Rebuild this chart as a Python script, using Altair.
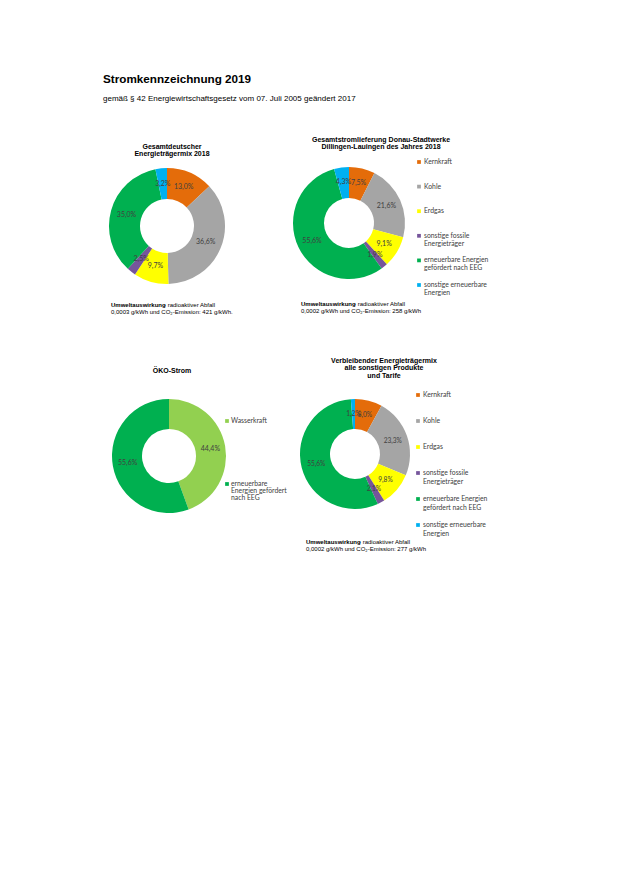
import altair as alt
import pandas as pd

# ---------------- data ----------------
categories = [
    "Kernkraft",
    "Kohle",
    "Erdgas",
    "sonstige fossile Energieträger",
    "erneuerbare Energien gefördert nach EEG",
    "sonstige erneuerbare Energien",
]
gesamt_values = [13.0, 36.6, 9.7, 2.5, 35.0, 3.2]
dsw_values = [7.5, 21.6, 9.1, 1.9, 55.6, 4.3]
rest_values = [8.0, 23.3, 9.8, 2.1, 55.6, 1.2]

oeko_categories = ["Wasserkraft", "erneuerbare Energien gefördert nach EEG"]
oeko_values = [44.4, 55.6]

legend_line1 = ["Kernkraft", "Kohle", "Erdgas", "sonstige fossile",
                "erneuerbare Energien", "sonstige erneuerbare"]
legend_line2 = ["", "", "", "Energieträger", "gefördert nach EEG", "Energien"]
oeko_legend_line1 = ["Wasserkraft", "erneuerbare"]
oeko_legend_line2 = ["", "Energien gefördert"]
oeko_legend_line3 = ["", "nach EEG"]

page_title = "Stromkennzeichnung 2019"
page_subtitle = "gemäß § 42 Energiewirtschaftsgesetz vom 07. Juli 2005 geändert 2017"
title1 = ["Gesamtdeutscher", "Energieträgermix 2018"]
title2 = ["Gesamtstromlieferung  Donau-Stadtwerke", "Dillingen-Lauingen des Jahres 2018"]
title3 = ["ÖKO-Strom"]
title4 = ["Verbleibender Energieträgermix", "alle sonstigen Produkte", "und Tarife"]
foot_bold = "Umweltauswirkung"
foot_rest = "- radioaktiver Abfall"
foot1 = "0,0003 g/kWh und CO₂-Emission:  421 g/kWh."
foot2 = "0,0002 g/kWh und CO₂-Emission:  258 g/kWh"
foot4 = "0,0002 g/kWh und CO₂-Emission:  277 g/kWh"

# ---------------- styles ----------------
color_domain = categories + ["Wasserkraft"]
color_range = ["#E46C0A", "#A5A5A5", "#FFFF00", "#76559B", "#00B050", "#00B0F0", "#92D050"]
color_scale = alt.Scale(domain=color_domain, range=color_range)
ARIAL = "Liberation Sans"
CAL = "Lato"


def txt(s, x, y, size=7, bold=False, align="left", font=ARIAL, color="#000000"):
    return alt.Chart(pd.DataFrame({"t": [s]})).mark_text(
        align=align, baseline="middle", font=font, fontSize=size,
        fontWeight="bold" if bold else "normal", color=color,
    ).encode(x=alt.value(x), y=alt.value(y), text="t:N")


def donut(cats, vals, cx, cy, r_in, r_out, r_lab, lab_size=7):
    df = pd.DataFrame({"cat": cats, "value": vals, "idx": list(range(len(cats)))})
    base = alt.Chart(df).transform_calculate(
        label="replace(format(datum.value, '.1f'), '.', ',') + '%'"
    )
    arc = base.mark_arc(innerRadius=r_in, outerRadius=r_out).encode(
        theta=alt.Theta("value:Q", stack=True),
        order=alt.Order("idx:Q"),
        color=alt.Color("cat:N", scale=color_scale, legend=None),
        x=alt.value(cx), y=alt.value(cy),
    )
    lab = base.mark_text(radius=r_lab, font=CAL, fontSize=lab_size, color="#404040").encode(
        theta=alt.Theta("value:Q", stack=True),
        order=alt.Order("idx:Q"),
        text="label:N",
        x=alt.value(cx), y=alt.value(cy),
    )
    return [arc, lab]


def legend(cats, lines, sx, tx, y0, y1, lh=8, size=6.8):
    n = len(cats)
    d = {"cat": cats, "idx": list(range(n))}
    for i, l in enumerate(lines):
        d[f"l{i}"] = l
    df = pd.DataFrame(d)
    yenc = alt.Y("idx:Q", scale=alt.Scale(domain=[0, n - 1], range=[y0, y1], zero=False, nice=False), axis=None)
    out = [alt.Chart(df).mark_square(size=14, opacity=1).encode(
        x=alt.value(sx), y=yenc,
        color=alt.Color("cat:N", scale=color_scale, legend=None),
    )]
    for i in range(len(lines)):
        out.append(alt.Chart(df).mark_text(
            align="left", baseline="middle", font=CAL, fontSize=size,
            color="#404040", dy=i * lh,
        ).encode(x=alt.value(tx), y=yenc, text=f"l{i}:N"))
    return out


layers = []
# page header
layers.append(txt(page_title, 103, 79, size=11.7, bold=True))
layers.append(txt(page_subtitle, 103, 99, size=8.0))

# chart titles
for i, s in enumerate(title1):
    layers.append(txt(s, 172, 146.5 + 7.6 * i, size=7, bold=True, align="center"))
for i, s in enumerate(title2):
    layers.append(txt(s, 381, 139.5 + 7.6 * i, size=7, bold=True, align="center"))
for i, s in enumerate(title3):
    layers.append(txt(s, 172, 371, size=7, bold=True, align="center"))
for i, s in enumerate(title4):
    layers.append(txt(s, 384, 360.5 + 7.6 * i, size=7, bold=True, align="center"))

# donuts
layers += donut(categories, gesamt_values, 167, 226, 27, 58, 42)
layers += donut(categories, dsw_values, 349, 223, 25, 56, 41)
layers += donut(oeko_categories, oeko_values, 169, 456, 27, 57, 42)
layers += donut(categories, rest_values, 355, 454, 25, 55, 40, lab_size=6.6)

# legends
layers += legend(categories, [legend_line1, legend_line2], 419, 424, 162, 285)
layers += legend(categories, [legend_line1, legend_line2], 418, 423, 395, 525, lh=8.5)
layers += legend(oeko_categories, [oeko_legend_line1, oeko_legend_line2, oeko_legend_line3],
                 227, 231, 421, 484, lh=7)

# footnotes
for (fx, fy, f2) in [(111, 305, foot1), (301, 304, foot2), (306, 542, foot4)]:
    layers.append(txt(foot_bold, fx, fy, size=6, bold=True))
    layers.append(txt(foot_rest, fx + 53, fy, size=6))
    layers.append(txt(f2, fx, fy + 7, size=6))

chart = alt.layer(*layers).resolve_scale(
    theta="independent", y="independent", x="independent"
).properties(
    width=620, height=877, autosize=alt.AutoSizeParams(type="none"), padding=0,
    background="white",
).configure_view(stroke=None)

chart.save("out.html", embed_options={"renderer": "svg", "actions": False})
